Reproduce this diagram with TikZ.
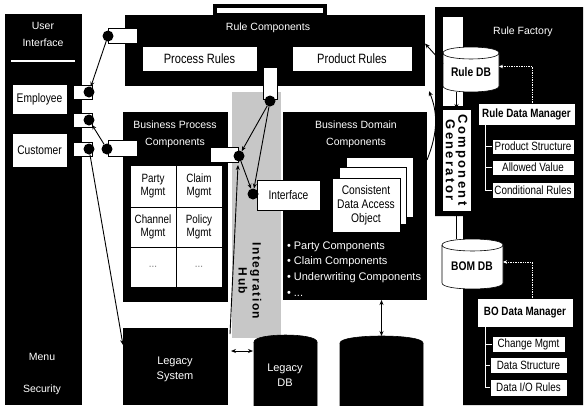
\documentclass[tikz,border=0pt]{standalone}
\usepackage{fontspec}
\setmainfont{Liberation Sans}
\newfontfamily\narrow[FakeStretch=0.82]{Liberation Sans}
\newfontfamily\hubfont[LetterSpace=12]{Liberation Sans}
\newfontfamily\genfont[LetterSpace=18]{Liberation Sans}
\usetikzlibrary{calc,arrows.meta}
\newcommand\mycyl[6]{% L, R, ytop, ybottom, ry, fill
 \filldraw[fill=#6, draw=black, line width=0.6pt] (#1,#3) -- (#1,#4) .. controls (#1,#4+1.33*#5) and (#2,#4+1.33*#5) .. (#2,#4) -- (#2,#3) .. controls (#2,#3-1.33*#5) and (#1,#3-1.33*#5) .. (#1,#3) -- cycle;
 \draw[line width=0.6pt] (#1,#3) .. controls (#1,#3+1.33*#5) and (#2,#3+1.33*#5) .. (#2,#3);}
\begin{document}
\begin{tikzpicture}[x=1pt,y=-1pt,
 every node/.style={inner sep=0pt, outer sep=0pt},
 rect/.style args={#1/#2/#3/#4}{minimum width={#3-#1}, minimum height={#4-#2}, at={({(#1+#3)/2},{(#2+#4)/2})}},
 blk/.style={fill=black, draw=none},
 wbox/.style={fill=white, draw=black, line width=0.5pt, align=center, font=\narrow\fontsize{12.5}{14}\selectfont},
 bbox/.style={fill=white, draw=black, line width=0.5pt, align=center, font=\narrow\bfseries\fontsize{12}{13}\selectfont},
 subbox/.style={fill=white, draw=black, line width=0.4pt, align=center, font=\narrow\fontsize{12}{13}\selectfont},
 wt/.style={text=white, align=center, font=\fontsize{10.5}{17}\selectfont},
 tabbox/.style={fill=white, draw=black, line width=0.4pt},
 pdot/.style={circle, fill=black, minimum size=11pt},
 conn/.style={line width=0.9pt, -{Stealth[length=5pt,width=4pt]}},
 dconn/.style={line width=0.9pt, {Stealth[length=5pt,width=4pt]}-{Stealth[length=5pt,width=4pt]}},
 dotarr/.style={white, line width=0.7pt, densely dotted, -{Stealth[length=4pt,width=3.5pt]}},
 tree/.style={white, line width=0.6pt}]

\useasboundingbox (0,0) rectangle (584,405);
\fill[white] (0,0) rectangle (584,405);

% Integration hub (behind)
\fill[black!22] (232,92) rectangle (281,338);
\node[rotate=-90, align=center, font=\hubfont\bfseries\fontsize{12}{14}\selectfont] (hubtxt) at (250,281) {Integration\\Hub};

% User interface panel
\node[blk, rect=5/14/82/405] (ui) {};
\node[wt] (uititle) at (43,34) {User\\Interface};
\draw[white, line width=1.2pt] (11,61) -- (75,61);
\node[wt] (menu) at (42,357) {Menu};
\node[wt] (security) at (42,390) {Security};
\node[wbox, rect=12/84/67/114] (employee) {Employee};
\node[wbox, rect=12/133/67/167] (customer) {Customer};
\node[tabbox, rect=73/85/92/99] (t1) {};
\node[tabbox, rect=73/113/92/127] (t2) {};
\node[tabbox, rect=73/142/92/156] (t3) {};

% Rule components
\fill[black] (213,4) rectangle (327,16);
\fill[white] (217,8) rectangle (323,13);
\node[blk, rect=125/15/425/86] (rulecomp) {};
\node[wt] (rctitle) at (268,28) {Rule Components};
\node[wbox, font=\narrow\fontsize{13.5}{14}\selectfont, rect=142/46/257/71] (procrules) {Process Rules};
\node[wbox, font=\narrow\fontsize{13.5}{14}\selectfont, rect=292/46/412/71] (prodrules) {Product Rules};
\node[tabbox, rect=108/28/137/43] (rtab) {};
\node[tabbox, rect=263/67/277/99] (rtab2) {};

% Business process components
\node[blk, rect=123/112/228/302] (bp) {};
\node[wt, font=\fontsize{10.5}{17}\selectfont] (bptitle) at (175,134) {Business Process\\Components};
\node[subbox, rect=130/165/176/207] (party) {Party\\Mgmt};
\node[subbox, rect=176/165/222/207] (claim) {Claim\\Mgmt};
\node[subbox, rect=130/207/176/247] (channel) {Channel\\Mgmt};
\node[subbox, rect=176/207/222/247] (policy) {Policy\\Mgmt};
\node[subbox, text=black!50, rect=130/247/176/287] (e1) {...};
\node[subbox, text=black!50, rect=176/247/222/287] (e2) {...};
\node[tabbox, rect=108/140/137/156] (bpltab) {};
\node[tabbox, rect=210/147/238/162] (bprtab) {};

% Business domain components
\node[blk, rect=283/112/427/300] (bd) {};
\node[wt] (bdtitle) at (356,134) {Business Domain\\Components};
\node[wbox, rect=257/180/320/210] (interface) {Interface};
\node[tabbox, rect=346/157/413/217] (cd3) {};
\node[tabbox, rect=339/167/406/224] (cd2) {};
\node[wbox, font=\narrow\fontsize{12.5}{14}\selectfont, rect=332/178/400/232] (cdao) {Consistent\\Data Access\\Object};
\node[wt, anchor=west, font=\fontsize{11}{12}\selectfont] (b1) at (287,247) {• Party Components};
\node[wt, anchor=west, font=\fontsize{11}{12}\selectfont] (b2) at (287,262) {• Claim Components};
\node[wt, anchor=west, font=\fontsize{11}{12}\selectfont] (b3) at (287,278) {• Underwriting Components};
\node[wt, anchor=west, font=\fontsize{11}{12}\selectfont] (b4) at (287,294) {• ...};

% Legacy
\node[blk, rect=123/328/228/405] (legacy) {};
\node[wt, font=\fontsize{11}{15}\selectfont] (legtxt) at (175,369) {Legacy\\System};
\mycyl{254}{317}{342}{415}{7}{black}
\node[rect=254/335/317/405] (ldb) {};
\node[wt, font=\fontsize{11}{15}\selectfont] (ldbtxt) at (285,375) {Legacy\\DB};
\mycyl{340}{423}{343}{415}{7}{black}
\node[rect=340/336/423/405] (cyl3) {};

% Rule factory
\fill[black] (435,7) -- (583,7) -- (583,405) -- (463,405) -- (463,216) -- (435,216) -- cycle;
\fill[white] (443,17) rectangle (463,106);
\node[wt, font=\fontsize{10.5}{12}\selectfont] (rftitle) at (523,32) {Rule Factory};
\mycyl{443}{499}{53}{86}{6}{white}
\node[rect=443/47/499/92] (ruledb) {};
\node[font=\narrow\bfseries\fontsize{12.5}{12}\selectfont] (ruledbtxt) at (471,72) {Rule DB};
\node[fill=white, draw=black, line width=0.5pt, rect=442/109/471/211] (gen) {};
\node[rotate=-90, align=center, font=\genfont\bfseries\fontsize{13}{12.5}\selectfont] (gentxt) at (456.5,160) {Component\\Generator};
\mycyl{442}{503}{245}{283}{6}{white}
\node[rect=442/239/503/289] (bomdb) {};
\node[font=\narrow\bfseries\fontsize{12.5}{12}\selectfont] (bomtxt) at (472,266) {BOM DB};

\node[bbox, rect=478/103/575/125] (rdm) {Rule Data Manager};
\node[subbox, rect=492/139/574/154] (ps) {Product Structure};
\node[subbox, rect=492/160/574/175] (av) {Allowed Value};
\node[subbox, rect=492/182/574/198] (cr) {Conditional Rules};
\draw[tree] ($(rdm.south west)+(7,0)$) |- (cr.west);
\draw[tree] (ps.west) -| ($(rdm.south west)+(7,0)$);
\draw[tree] (av.west) -| ($(rdm.south west)+(7,0)$);

\node[bbox, rect=477/298/573/327] (bodm) {BO Data Manager};
\node[subbox, rect=492/336/565/352] (cm) {Change Mgmt};
\node[subbox, rect=490/357/567/373] (ds) {Data Structure};
\node[subbox, rect=490/379/567/396] (dio) {Data I/O Rules};
\draw[tree] ($(bodm.south west)+(8,0)$) |- (dio.west);
\draw[tree] (cm.west) -| ($(bodm.south west)+(8,0)$);
\draw[tree] (ds.west) -| ($(bodm.south west)+(8,0)$);

\draw[dotarr] ($(rdm.north)+(6,0)$) |- ($(ruledb.east)+(0,-3)$);
\draw[dotarr] ($(bodm.north)+(7,0)$) |- ($(bomdb.east)+(0,-2)$);
\draw[conn] (gen.north |- ruledb.south) -- (gen.north);
\draw[conn] (gen.south |- bomdb.north) -- (gen.south);
\draw[conn] ($(ruledb.west)+(0,-6)$) -- ($(rulecomp.east)+(0,-7)$);
\draw[conn] ($(bd.north east)+(0,48)$) .. controls (439,130) and (437,111) .. ($(rulecomp.south east)+(4,5)$);

% dots
\node[pdot] (d1) at (89,92) {};
\node[pdot] (d2) at (89,120) {};
\node[pdot] (d3) at (89,149) {};
\node[pdot] (rd) at (108,36) {};
\node[pdot] (bpl) at (107,149) {};
\node[pdot] (bpr) at (239,156) {};
\node[pdot] (rdot) at (270,101) {};
\node[pdot] (ifd) at (253,194) {};

% connectors
\draw[conn] (rd) -- (d1);
\draw[conn] (bpl) -- (d2);
\draw[conn] (d3) -- ($(legacy.north west)+(0,17)$);
\draw[conn] (rdot) -- (bpr);
\draw[conn] (rdot) -- (ifd);
\draw[conn] (bpr) -- (ifd);
\draw[conn] ($(legacy.north east)+(2,6)$) -- ($(bprtab.south east)+(0,3)$);
\draw[dconn] ($(legacy.north east)+(3,23)$) -- ($(ldb.north west)+(-1,16)$);
\draw[dconn] (cyl3.north |- bd.south) -- (cyl3.north);
\end{tikzpicture}
\end{document}
